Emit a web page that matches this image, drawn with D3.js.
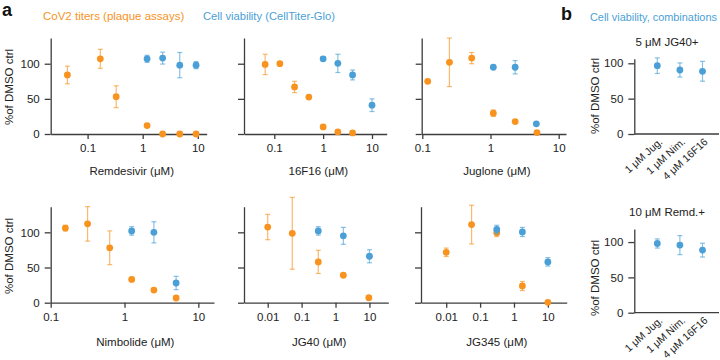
<!DOCTYPE html>
<html>
<head>
<meta charset="utf-8">
<script src="https://cdn.jsdelivr.net/npm/d3@7"></script>
<style>
  body { margin: 0; background: #fff; }
  text { font-family: "Liberation Sans", Arial, sans-serif; }
</style>
</head>
<body>
<svg id="chart" width="720" height="360"></svg>
<script>
// ---- data ----
// orange = CoV2 titers, blue = cell viability; values are % of DMSO ctrl, err = half bar
const remdTiterDose = [0.043, 0.17, 0.33, 1.2, 2.3, 4.7, 9.3]
const remdTiter     = [84, 107, 53, 12, 0, 0, 0]
const remdTiterErr  = [12.5, 13.5, 15.5, 0, 0, 0, 0]
const remdViabDose  = [1.2, 2.3, 4.7, 9.3]
const remdViab      = [107, 108, 98, 98]
const remdViabErr   = [5, 8.5, 18, 5]

const f16TiterDose = [0.065, 0.13, 0.26, 0.51, 1.0, 2.0, 4.0]
const f16Titer     = [99, 100, 67, 52.6, 10, 3, 1.5]
const f16TiterErr  = [14.5, 2, 8, 1.5, 0, 0, 0]
const f16ViabDose  = [1.0, 2.0, 4.0, 10]
const f16Viab      = [107, 100.5, 84, 41]
const f16ViabErr   = [3, 13, 7, 9]

const jugTiterDose = [0.12, 0.25, 0.53, 1.1, 2.3, 4.8]
const jugTiter     = [75, 102, 108, 29.6, 17.7, 2]
const jugTiterErr  = [2, 34.5, 8, 4.5, 1, 0]
const jugViabDose  = [1.1, 2.3, 4.7]
const jugViab      = [95, 95, 14.5]
const jugViabErr   = [1, 9.5, 0]

const nimTiterDose = [0.158, 0.316, 0.63, 1.25, 2.5, 5]
const nimTiter     = [106, 112, 78, 33, 18, 6.7]
const nimTiterErr  = [4, 24.5, 24, 2, 1, 0]
const nimViabDose  = [1.25, 2.5, 5]
const nimViab      = [102, 100, 28]
const nimViabErr   = [6, 15, 9.5]

const jg40TiterDose = [0.01, 0.053, 0.31, 1.7, 9.6]
const jg40Titer     = [107.5, 98.6, 58, 39, 7]
const jg40TiterErr  = [18, 51, 16.5, 0, 0]
const jg40ViabDose  = [0.31, 1.7, 10]
const jg40Viab      = [102, 95, 66]
const jg40ViabErr   = [6, 12, 9.3]

const jg345TiterDose = [0.01, 0.056, 0.31, 1.77, 10]
const jg345Titer     = [71.6, 111, 99.5, 23.7, 0.5]
const jg345TiterErr  = [6, 27.5, 5.5, 6.5, 0]
const jg345ViabDose  = [0.31, 1.77, 10]
const jg345Viab      = [104, 100.5, 58]
const jg345ViabErr   = [6, 6.5, 6]

const combLabels  = ["1 μM Jug.", "1 μM Nim.", "4 μM 16F16"]
const combJG40    = [96.6, 90.5, 88.7]
const combJG40Err = [11, 10, 14]
const combRemd    = [98, 95.7, 88.6]
const combRemdErr = [6.5, 13.5, 9.8]

const yTicks = [0, 50, 100]

// ---- styles ----
const ORANGE = "#f7931e"
const BLUE = "#4a9fd6"
const AXIS = "#3d3d3d"
const FS = "11.5px"

const svg = d3.select("#chart")

function styleAxis(sel) {
  sel.selectAll("path, line").attr("stroke", AXIS).attr("stroke-width", 1.3)
  sel.selectAll("text").attr("fill", "#222").style("font-size", FS)
    .style("font-family", "'Liberation Sans', Arial, sans-serif")
}

function series(g, x, y, xs, ys, es, color) {
  const pts = xs.map((d, i) => ({x: d, y: ys[i], e: es[i]}))
  const eb = g.append("g").attr("stroke", color).attr("stroke-opacity", 0.65).attr("stroke-width", 1.2)
  pts.filter(d => d.e > 0).forEach(d => {
    const cx = x(d.x)
    eb.append("line").attr("x1", cx).attr("x2", cx).attr("y1", y(d.y - d.e)).attr("y2", y(d.y + d.e))
    eb.append("line").attr("x1", cx - 2.5).attr("x2", cx + 2.5).attr("y1", y(d.y - d.e)).attr("y2", y(d.y - d.e))
    eb.append("line").attr("x1", cx - 2.5).attr("x2", cx + 2.5).attr("y1", y(d.y + d.e)).attr("y2", y(d.y + d.e))
  })
  g.append("g").selectAll("circle").data(pts).join("circle")
    .attr("cx", d => x(d.x)).attr("cy", d => y(d.y)).attr("r", 3.4).attr("fill", color)
}

function yAxis(g, y, x0, labels) {
  const ax = d3.axisLeft(y).tickValues(yTicks).tickSize(6).tickPadding(5).tickSizeOuter(0)
  if (!labels) ax.tickFormat("")
  g.append("g").attr("transform", `translate(${x0},0)`).call(ax).call(styleAxis)
}

function yTitle(cx, cy) {
  svg.append("text").attr("transform", `translate(${cx},${cy}) rotate(-90)`)
    .attr("text-anchor", "middle").attr("dy", "0.35em").style("font-size", FS).attr("fill", "#222")
    .text("%of DMSO ctrl")
}

// ---- panel a: dose responses ----
const dosePanels = [
  {name: "Remdesivir", xr: [50.7, 206.7], xDom: [0.0214, 14.5], yr: [134, 38], yMax: 136.6,
   ticks: [0.1, 1, 10], labels: true,
   t: [remdTiterDose, remdTiter, remdTiterErr], v: [remdViabDose, remdViab, remdViabErr]},
  {name: "16F16", xr: [244, 386.7], xDom: [0.024, 20], yr: [134, 38], yMax: 136.6,
   ticks: [0.1, 1, 10], labels: false,
   t: [f16TiterDose, f16Titer, f16TiterErr], v: [f16ViabDose, f16Viab, f16ViabErr]},
  {name: "Juglone", xr: [421.7, 566], xDom: [0.098, 12.8], yr: [134, 38], yMax: 136.6,
   ticks: [0.1, 1, 10], labels: false,
   t: [jugTiterDose, jugTiter, jugTiterErr], v: [jugViabDose, jugViab, jugViabErr]},
  {name: "Nimbolide", xr: [50.7, 214], xDom: [0.1, 16.3], yr: [302.7, 206.7], yMax: 136.4,
   ticks: [0.1, 1, 10], labels: true,
   t: [nimTiterDose, nimTiter, nimTiterErr], v: [nimViabDose, nimViab, nimViabErr]},
  {name: "JG40", xr: [244, 388.3], xDom: [0.002, 36], yr: [302.7, 206.7], yMax: 136.4,
   ticks: [0.01, 0.1, 1, 10], labels: false,
   t: [jg40TiterDose, jg40Titer, jg40TiterErr], v: [jg40ViabDose, jg40Viab, jg40ViabErr]},
  {name: "JG345", xr: [421, 566.7], xDom: [0.0018, 36], yr: [302.7, 206.7], yMax: 136.4,
   ticks: [0.01, 0.1, 1, 10], labels: false,
   t: [jg345TiterDose, jg345Titer, jg345TiterErr], v: [jg345ViabDose, jg345Viab, jg345ViabErr]}
]

dosePanels.forEach((p, i) => {
  const g = svg.append("g")
  const x = d3.scaleLog().domain(p.xDom).range(p.xr)
  const y = d3.scaleLinear().domain([0, p.yMax]).range(p.yr)

  g.append("g").attr("transform", `translate(0,${p.yr[0]})`)
    .call(d3.axisBottom(x).tickValues(p.ticks).tickFormat(d3.format("~g"))
      .tickSize(5).tickPadding(5).tickSizeOuter(0))
    .call(styleAxis)
  yAxis(g, y, p.xr[0], p.labels)

  g.append("text").attr("x", (p.xr[0] + p.xr[1]) / 2 + 3).attr("y", p.yr[0] + (i < 3 ? 41 : 43.5))
    .attr("text-anchor", "middle").style("font-size", FS).attr("fill", "#222")
    .text(p.name + " (μM)")

  series(g, x, y, p.t[0], p.t[1], p.t[2], ORANGE)
  series(g, x, y, p.v[0], p.v[1], p.v[2], BLUE)
})

yTitle(9, 87)
yTitle(9, 256)

// ---- panel b: combinations ----
const combPanels = [
  {title: "5 μM JG40+", yr: [134, 58.7], yMax: 106.5, vals: combJG40, errs: combJG40Err, ty: 46},
  {title: "10 μM Remd.+", yr: [312.7, 229], yMax: 118.5, vals: combRemd, errs: combRemdErr, ty: 216}
]

combPanels.forEach(p => {
  const g = svg.append("g")
  const x = d3.scalePoint().domain(combLabels).range([657.3, 702.5])
  const y = d3.scaleLinear().domain([0, p.yMax]).range(p.yr)

  const xa = g.append("g").attr("transform", `translate(0,${p.yr[0]})`)
    .call(d3.axisBottom(x).tickSize(0).tickPadding(0))
  xa.select(".domain").remove()
  xa.append("line").attr("x1", 634.3).attr("x2", 719).attr("y1", 0).attr("y2", 0)
  xa.call(styleAxis)
  xa.selectAll(".tick text").attr("x", 0).attr("y", 0).attr("dy", "0.35em")
    .style("font-size", "10.5px")
    .attr("transform", "translate(3,6) rotate(-42)").attr("text-anchor", "end")

  yAxis(g, y, 634.3, true)

  g.append("text").attr("x", 667).attr("y", p.ty).attr("text-anchor", "middle")
    .style("font-size", FS).attr("fill", "#222").text(p.title)

  series(g, x, y, combLabels, p.vals, p.errs, BLUE)
})

yTitle(595, 96)
yTitle(595, 278)

// ---- headers ----
svg.append("text").attr("x", 2).attr("y", 16).style("font-size", "18px").style("font-weight", "bold")
  .attr("fill", "#111").text("a")
svg.append("text").attr("x", 561).attr("y", 20).style("font-size", "18px").style("font-weight", "bold")
  .attr("fill", "#111").text("b")
svg.append("text").attr("x", 43).attr("y", 20).style("font-size", FS).attr("fill", ORANGE)
  .text("CoV2 titers (plaque assays)")
svg.append("text").attr("x", 203).attr("y", 20).style("font-size", "11.2px").attr("fill", BLUE)
  .text("Cell viability (CellTiter-Glo)")
svg.append("text").attr("x", 590).attr("y", 21).style("font-size", "10.9px").attr("fill", BLUE)
  .text("Cell viability, combinations")
</script>
</body>
</html>
